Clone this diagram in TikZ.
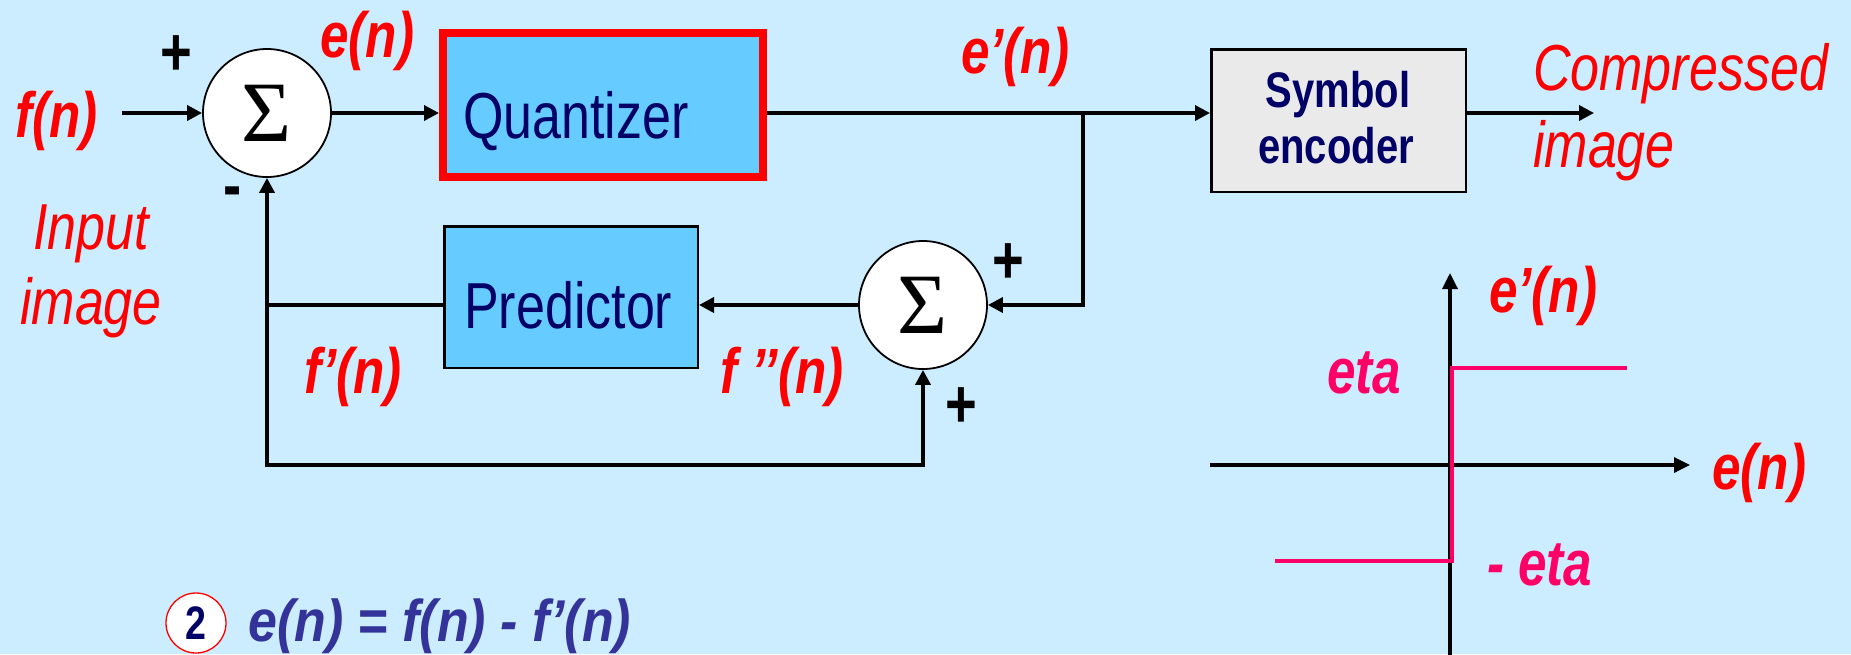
\documentclass[tikz,border=0pt]{standalone}
\usepackage{fontspec}
\setmainfont[FakeStretch=0.8]{Liberation Sans}
\newfontfamily\eqfont[FakeStretch=0.88]{Liberation Sans}
\newfontfamily\sigfont{Liberation Serif}
\usetikzlibrary{arrows.meta}
\definecolor{bg}{HTML}{CCECFF}
\definecolor{boxblue}{HTML}{66CCFF}
\definecolor{navy}{HTML}{000066}
\definecolor{encgray}{HTML}{EAEAEA}
\definecolor{pinkc}{HTML}{FF0066}
\definecolor{eqblue}{HTML}{333399}
\begin{document}
\begin{tikzpicture}[x=1pt,y=-1pt,
  wire/.style={line width=3.5pt},
  arr/.style={wire,-{Triangle[length=15pt,width=15pt]}},
  axis/.style={line width=3.3pt,-{Triangle[length=16pt,width=15pt]}},
  sumnode/.style={circle,draw,line width=1.8pt,fill=white,minimum size=128pt,inner sep=0pt,
    font=\sigfont\fontsize{86}{86}\selectfont},
  lab/.style={anchor=base west,inner sep=0pt,text=red,font=\fontsize{64}{64}\selectfont\bfseries\itshape},
  ilab/.style={anchor=base west,inner sep=0pt,text=red,font=\fontsize{65}{65}\selectfont\itshape},
  sign/.style={inner sep=0pt,font=\fontsize{68}{68}\selectfont\bfseries},
  blocktext/.style={anchor=base west,inner sep=0pt,text=navy,font=\fontsize{65}{65}\selectfont},
  etalab/.style={anchor=base west,inner sep=0pt,text=pinkc,font=\fontsize{64}{64}\selectfont\bfseries\itshape},
]
\useasboundingbox (0,0) rectangle (1851,654);
\fill[bg] (0,0) rectangle (1851,654);

% blocks
\node[sumnode] (c1) at (267,113) {Σ};
\node[sumnode] (c2) at (923,305) {Σ};
\node[draw=red,line width=8pt,fill=boxblue,minimum width=320pt,minimum height=144pt,inner sep=0pt] (q) at (603,105) {};
\node[blocktext] (qt) at (463,138) {Quantizer};
\node[draw,line width=2.5pt,fill=boxblue,minimum width=253.5pt,minimum height=141.5pt,inner sep=0pt] (pred) at (571,297) {};
\node[blocktext] (pt) at (464,328) {Predictor};
\node[draw,line width=2.5pt,fill=encgray,minimum width=254.5pt,minimum height=142.5pt,inner sep=0pt] (enc) at (1338.5,120.5) {};
\node[anchor=base,inner sep=0pt,text=navy,font=\fontsize{50}{50}\selectfont\bfseries] (et1) at (1338,107) {Symbol};
\node[anchor=base,inner sep=0pt,text=navy,font=\fontsize{50}{50}\selectfont\bfseries] (et2) at (1336,163) {encoder};

% coordinates
\coordinate (in) at (122,113);
\coordinate (jt) at (1083,113);
\coordinate (out) at (1594,113);
\coordinate (fb) at (267,305);
\coordinate (bl) at (267,465);
\coordinate (br) at (923,465);

% connectors
\draw[arr] (in) -- (c1.west);
\draw[arr] (c1.east) -- (q.west |- c1.east);
\draw[wire] (q.east |- jt) -- (jt);
\draw[arr] (jt) -- (enc.west |- jt);
\draw[arr] (enc.east |- out) -- (out);
\draw[arr] (jt) |- (c2.east);
\draw[arr] (c2.west) -- (pred.east |- c2.west);
\draw[wire] (pred.west |- fb) -- (fb);
\draw[wire,line join=miter,{Triangle[length=15pt,width=15pt]}-{Triangle[length=15pt,width=15pt]}] (c1.south) -- (bl) -- (br) -- (c2.south);

% signs
\node[sign] (p1) at (176,56) {+};
\node[sign] (m1) at (233,198) {-};
\node[sign] (p2) at (1008,264) {+};
\node[sign] (p3) at (961,408) {+};

% labels
\node[lab] (fn) at (15,137) {f(n)};
\node[lab] (en) at (320,57) {e(n)};
\node[lab] (epn) at (961,73) {e’(n)};
\node[lab] (fpn) at (304,393) {f’(n)};
\node[lab] (fppn) at (720,393) {f ’’(n)};
\node[ilab] (inp1) at (33,249) {Input};
\node[ilab] (inp2) at (20,324) {image};
\node[ilab] (cmp1) at (1533,90) {Compressed};
\node[ilab] (cmp2) at (1533,167) {image};

% graph
\coordinate (xa0) at (1210,465);
\coordinate (xa1) at (1690,465);
\coordinate (ya0) at (1450,660);
\coordinate (ya1) at (1450,273);
\draw[axis] (xa0) -- (xa1);
\draw[axis] (ya0) -- (ya1);
\coordinate (s0) at (1275,561);
\coordinate (s1) at (1452,561);
\coordinate (s2) at (1452,368);
\coordinate (s3) at (1627,368);
\draw[pinkc,line width=4.5pt,line join=miter] (s0) -- (s1) -- (s2) -- (s3);
\node[lab] (gy) at (1489,312) {e’(n)};
\node[lab] (gx) at (1712,489) {e(n)};
\node[etalab] (eta1) at (1327,393) {eta};
\node[etalab] (eta2) at (1487,585) {- eta};

% equation
\node[circle,draw=red,line width=1.3pt,fill=white,minimum size=60pt,inner sep=0pt,text=navy,font=\fontsize{47}{47}\selectfont\bfseries] (num) at (196,623) {2};
\node[anchor=base west,inner sep=0pt,text=eqblue,font=\eqfont\fontsize{59}{59}\selectfont\bfseries\itshape] (eq) at (248,641) {e(n) = f(n) - f’(n)};
\end{tikzpicture}
\end{document}
